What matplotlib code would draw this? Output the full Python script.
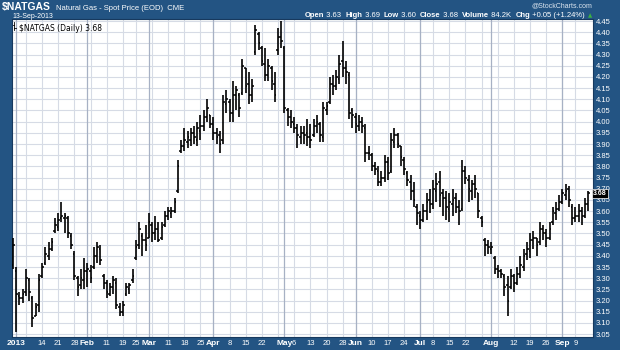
import numpy as np
import pandas as pd
import matplotlib
matplotlib.use('Agg')
import matplotlib.pyplot as plt
from matplotlib.transforms import blended_transform_factory

plt.rcParams['font.family'] = ['Liberation Sans', 'DejaVu Sans']

# trading days (Dec 31 2012 - Sep 13 2013), NYMEX holidays removed
holidays = ['2013-01-01', '2013-02-18', '2013-03-29', '2013-05-27', '2013-07-04', '2013-09-02']
dates = pd.bdate_range('2012-12-31', '2013-09-13')
dates = dates[~dates.isin(pd.to_datetime(holidays))]

opens = [3.36, 3.33, 3.22, 3.21, 3.24, 3.29, 3.21, 3.13, 3.18, 3.31,
         3.37, 3.40, 3.43, 3.51, 3.53, 3.57, 3.57, 3.57, 3.49, 3.41,
         3.30, 3.27, 3.29, 3.33, 3.33, 3.35, 3.40, 3.43, 3.31, 3.28,
         3.23, 3.26, 3.28, 3.17, 3.15, 3.23, 3.25, 3.29, 3.39, 3.45,
         3.49, 3.47, 3.48, 3.54, 3.50, 3.52, 3.48, 3.54, 3.58, 3.59,
         3.60, 3.69, 3.87, 3.89, 3.91, 3.92, 3.95, 3.92, 3.96, 3.98,
         4.02, 4.03, 3.99, 3.95, 3.94, 3.92, 4.08, 4.09, 4.04, 4.12,
         4.12, 4.13, 4.24, 4.17, 4.12, 4.31, 4.39, 4.33, 4.26, 4.21,
         4.24, 4.17, 4.32, 4.38, 4.33, 4.05, 4.02, 3.99, 3.97, 3.93,
         3.95,
         3.95, 3.93, 3.94, 3.98, 3.99, 3.93, 4.05, 4.09, 4.17, 4.16,
         4.19, 4.27, 4.24, 4.21, 4.05, 4.02, 3.98, 4.00, 3.97, 3.86,
         3.85, 3.80, 3.78, 3.73, 3.75, 3.82, 3.78, 3.91, 3.94, 3.89,
         3.83, 3.77, 3.73, 3.69, 3.62, 3.58, 3.56, 3.60, 3.65, 3.63,
         3.69, 3.73, 3.68, 3.66, 3.61, 3.63, 3.66, 3.62, 3.61, 3.78,
         3.74, 3.69, 3.72, 3.68, 3.57, 3.47, 3.45, 3.43, 3.39, 3.34,
         3.33, 3.31, 3.27, 3.26, 3.31, 3.28, 3.32, 3.35, 3.41, 3.42,
         3.47, 3.48, 3.46, 3.52, 3.50, 3.48, 3.55, 3.59, 3.61, 3.64,
         3.67, 3.70, 3.62, 3.57, 3.58, 3.60, 3.58, 3.63]
highs = [3.48, 3.35, 3.24, 3.25, 3.34, 3.30, 3.22, 3.19, 3.32, 3.37,
         3.44, 3.46, 3.48, 3.57, 3.59, 3.64, 3.59, 3.58, 3.50, 3.42,
         3.31, 3.34, 3.39, 3.37, 3.36, 3.44, 3.46, 3.45, 3.32, 3.29,
         3.28, 3.31, 3.30, 3.19, 3.20, 3.28, 3.28, 3.34, 3.47, 3.55,
         3.50, 3.54, 3.59, 3.55, 3.58, 3.55, 3.55, 3.60, 3.62, 3.62,
         3.66, 3.83, 3.92, 3.97, 3.96, 3.97, 3.98, 4.00, 4.03, 4.05,
         4.10, 4.03, 4.02, 3.97, 3.96, 4.12, 4.14, 4.10, 4.18, 4.16,
         4.13, 4.28, 4.24, 4.22, 4.19, 4.43, 4.40, 4.34, 4.33, 4.28,
         4.25, 4.22, 4.42, 4.45, 4.34, 4.06, 4.05, 4.02, 3.99, 3.98,
         3.98,
         4.01, 3.99, 4.01, 4.03, 4.00, 4.09, 4.09, 4.20, 4.21, 4.23,
         4.30, 4.36, 4.27, 4.22, 4.06, 4.04, 4.03, 4.02, 3.99, 3.89,
         3.86, 3.82, 3.80, 3.78, 3.85, 3.84, 3.95, 3.97, 3.95, 3.89,
         3.84, 3.78, 3.76, 3.73, 3.63, 3.60, 3.63, 3.68, 3.70, 3.74,
         3.77, 3.78, 3.70, 3.69, 3.68, 3.70, 3.68, 3.65, 3.83, 3.80,
         3.76, 3.74, 3.76, 3.68, 3.58, 3.48, 3.47, 3.46, 3.40, 3.36,
         3.34, 3.32, 3.31, 3.34, 3.32, 3.35, 3.40, 3.43, 3.46, 3.50,
         3.51, 3.48, 3.55, 3.54, 3.52, 3.55, 3.62, 3.64, 3.67, 3.70,
         3.72, 3.71, 3.63, 3.62, 3.63, 3.62, 3.66, 3.69]
lows = [3.34, 3.06, 3.18, 3.19, 3.22, 3.20, 3.08, 3.13, 3.15, 3.30,
        3.36, 3.38, 3.42, 3.50, 3.51, 3.55, 3.50, 3.48, 3.43, 3.29,
        3.22, 3.25, 3.25, 3.26, 3.28, 3.34, 3.37, 3.36, 3.25, 3.21,
        3.22, 3.23, 3.16, 3.13, 3.13, 3.22, 3.23, 3.28, 3.38, 3.43,
        3.40, 3.42, 3.48, 3.46, 3.47, 3.46, 3.47, 3.53, 3.56, 3.57,
        3.59, 3.68, 3.86, 3.87, 3.88, 3.89, 3.90, 3.89, 3.92, 3.96,
        4.00, 3.97, 3.92, 3.90, 3.86, 3.90, 4.04, 4.00, 4.00, 4.05,
        4.02, 4.12, 4.13, 4.08, 4.09, 4.30, 4.32, 4.25, 4.18, 4.18,
        4.14, 4.09, 4.30, 4.33, 4.04, 3.98, 3.97, 3.95, 3.88, 3.90,
        3.90,
        3.89, 3.88, 3.93, 3.95, 3.91, 3.91, 4.03, 4.08, 4.12, 4.14,
        4.17, 4.20, 4.17, 4.01, 3.97, 3.95, 3.96, 3.95, 3.82, 3.83,
        3.78, 3.76, 3.71, 3.71, 3.73, 3.74, 3.77, 3.88, 3.88, 3.80,
        3.76, 3.71, 3.65, 3.62, 3.54, 3.52, 3.55, 3.56, 3.59, 3.61,
        3.64, 3.62, 3.58, 3.56, 3.55, 3.58, 3.59, 3.54, 3.60, 3.72,
        3.64, 3.65, 3.66, 3.57, 3.53, 3.40, 3.41, 3.41, 3.32, 3.30,
        3.30, 3.22, 3.13, 3.25, 3.24, 3.27, 3.30, 3.33, 3.38, 3.39,
        3.43, 3.40, 3.45, 3.47, 3.44, 3.47, 3.54, 3.56, 3.60, 3.63,
        3.65, 3.62, 3.54, 3.55, 3.55, 3.54, 3.57, 3.60]
closes = [3.45, 3.23, 3.21, 3.23, 3.30, 3.24, 3.12, 3.17, 3.29, 3.35,
          3.41, 3.43, 3.46, 3.54, 3.56, 3.58, 3.58, 3.50, 3.45, 3.31,
          3.26, 3.30, 3.33, 3.34, 3.30, 3.40, 3.44, 3.38, 3.28, 3.24,
          3.26, 3.29, 3.18, 3.15, 3.18, 3.26, 3.27, 3.31, 3.44, 3.52,
          3.47, 3.45, 3.55, 3.50, 3.52, 3.47, 3.53, 3.58, 3.60, 3.60,
          3.64, 3.80, 3.89, 3.92, 3.93, 3.95, 3.93, 3.97, 3.98, 4.02,
          4.06, 3.99, 3.95, 3.93, 3.90, 4.09, 4.10, 4.04, 4.12, 4.14,
          4.06, 4.25, 4.16, 4.12, 4.16, 4.41, 4.35, 4.27, 4.21, 4.25,
          4.18, 4.12, 4.38, 4.36, 4.06, 4.02, 4.00, 3.97, 3.94, 3.95,
          3.94,
          3.93, 3.92, 3.98, 4.00, 3.94, 4.06, 4.07, 4.17, 4.16, 4.20,
          4.26, 4.24, 4.22, 4.04, 4.03, 3.99, 4.00, 3.98, 3.86, 3.86,
          3.80, 3.79, 3.73, 3.75, 3.82, 3.77, 3.92, 3.94, 3.90, 3.84,
          3.79, 3.74, 3.69, 3.65, 3.59, 3.56, 3.60, 3.64, 3.63, 3.70,
          3.72, 3.67, 3.66, 3.62, 3.64, 3.65, 3.62, 3.60, 3.78, 3.75,
          3.70, 3.72, 3.70, 3.60, 3.55, 3.45, 3.44, 3.44, 3.34, 3.33,
          3.32, 3.26, 3.20, 3.31, 3.28, 3.32, 3.36, 3.40, 3.43, 3.47,
          3.48, 3.45, 3.52, 3.50, 3.48, 3.52, 3.60, 3.61, 3.64, 3.68,
          3.69, 3.65, 3.57, 3.58, 3.60, 3.58, 3.63, 3.68]

tick_dates = ['2013-01-02', '2013-01-14', '2013-01-21', '2013-01-28', '2013-02-01',
              '2013-02-11', '2013-02-19', '2013-02-25', '2013-03-01', '2013-03-11',
              '2013-03-18', '2013-03-25', '2013-04-01', '2013-04-08', '2013-04-15',
              '2013-04-22', '2013-05-01', '2013-05-06', '2013-05-13', '2013-05-20',
              '2013-05-28', '2013-06-03', '2013-06-10', '2013-06-17', '2013-06-24',
              '2013-07-01', '2013-07-08', '2013-07-15', '2013-07-22', '2013-08-01',
              '2013-08-12', '2013-08-19', '2013-08-26', '2013-09-03', '2013-09-09']
tick_labels = ['2013', '14', '21', '28', 'Feb', '11', '19', '25', 'Mar', '11',
               '18', '25', 'Apr', '8', '15', '22', 'May', '6', '13', '20',
               '28', 'Jun', '10', '17', '24', 'Jul', '8', '15', '22', 'Aug',
               '12', '19', '26', 'Sep', '9']
price_ticks = np.round(np.arange(3.05, 4.451, 0.05), 2)

bg = '#235483'
W, H = 620, 350


def px(x, y):
    # pixel position (from top-left) -> figure fraction
    return x / W, 1 - y / H


fig = plt.figure(figsize=(6.2, 3.5), dpi=100, facecolor=bg)
ax = fig.add_axes([12 / W, 13 / H, 581 / W, 318 / H])
ax.set_facecolor('white')

x = np.arange(len(dates))
# grid
week_start = [i for i in range(1, len(dates)) if dates[i].weekday() < dates[i - 1].weekday()]
month_start = [i for i in range(1, len(dates)) if dates[i].month != dates[i - 1].month]
for p in price_ticks:
    ax.axhline(p, color='#d6dbe5', lw=0.8, zorder=0)
for i in week_start:
    ax.axvline(i, color='#d6dbe5', lw=0.8, zorder=0)
for i in month_start:
    ax.axvline(i, color='#a7b1c4', lw=0.9, zorder=0)

# OHLC bars
ax.vlines(x, lows, highs, color='black', lw=1.2, zorder=3)
ax.hlines(opens, x - 0.5, x, color='black', lw=1.1, zorder=3)
ax.hlines(closes, x, x + 0.5, color='black', lw=1.1, zorder=3)

ax.set_xlim(-0.31, 179.45)
ax.set_ylim(3.037, 4.459)

ax.yaxis.tick_right()
ax.set_yticks(price_ticks)
ax.set_yticklabels([f'{p:.2f}' for p in price_ticks])
ax.tick_params(axis='y', length=0, pad=2, labelsize=5.5, labelcolor='white')

tick_idx = dates.get_indexer(pd.to_datetime(tick_dates))
ax.set_xticks(tick_idx)
ax.set_xticklabels(tick_labels)
ax.tick_params(axis='x', length=0, pad=2.5, labelsize=5.5, labelcolor='white')
for t in ax.get_xticklabels():
    if t.get_text().isalpha() or t.get_text() == '2013':
        t.set_fontweight('bold')
        t.set_fontsize(6)

for s in ax.spines.values():
    s.set_color('#17395e')
    s.set_linewidth(0.8)

# legend inside plot
ax.text(0.012, 0.985, '\\$NATGAS (Daily) %.2f' % closes[-1], transform=ax.transAxes,
        fontsize=5.5, color='black', va='top', ha='left', family=['DejaVu Sans'])
ax.plot([0.004, 0.004], [0.965, 0.99], transform=ax.transAxes, color='black', lw=0.6)
ax.plot([0.001, 0.004], [0.98, 0.98], transform=ax.transAxes, color='black', lw=0.6)
ax.plot([0.004, 0.007], [0.972, 0.972], transform=ax.transAxes, color='black', lw=0.6)

# last price marker
trans = blended_transform_factory(ax.transAxes, ax.transData)
ax.text(1.0, closes[-1], '%.2f' % closes[-1], transform=trans, fontsize=5, color='white',
        ha='left', va='center', fontweight='bold', clip_on=False, zorder=5,
        bbox=dict(boxstyle='square,pad=0.15', fc='black', ec='white', lw=0.5))

# header
fig.text(*px(2, 10), '\\$NATGAS', fontsize=7.5, fontweight='bold', color='white', va='baseline')
fig.text(*px(56, 10), 'Natural Gas - Spot Price (EOD)  CME', fontsize=5.5, color='white', va='baseline')
fig.text(*px(12, 17.5), '13-Sep-2013', fontsize=5, color='white', va='baseline')
fig.text(*px(592, 7), '@StockCharts.com', fontsize=5, color='#dde6f0', va='baseline', ha='right')

parts = [('Open', True), (' %.2f  ' % opens[-1], False), ('High', True), (' %.2f  ' % highs[-1], False),
         ('Low', True), (' %.2f  ' % lows[-1], False), ('Close', True), (' %.2f  ' % closes[-1], False),
         ('Volume', True), (' 84.2K  ', False), ('Chg', True), (' +0.05 (+1.24%)', False)]
renderer = fig.canvas.get_renderer()
cx = 305
for txt, b in parts:
    t = fig.text(*px(cx, 17), txt, fontsize=5.5, color='white', va='baseline',
                 fontweight='bold' if b else 'normal')
    cx += t.get_window_extent(renderer).width
fig.text(*px(cx + 3, 17), '\u25b2', fontsize=4, color='#3cb043', va='baseline', family=['DejaVu Sans'])

fig.savefig('out.png', dpi=100, facecolor=bg)
